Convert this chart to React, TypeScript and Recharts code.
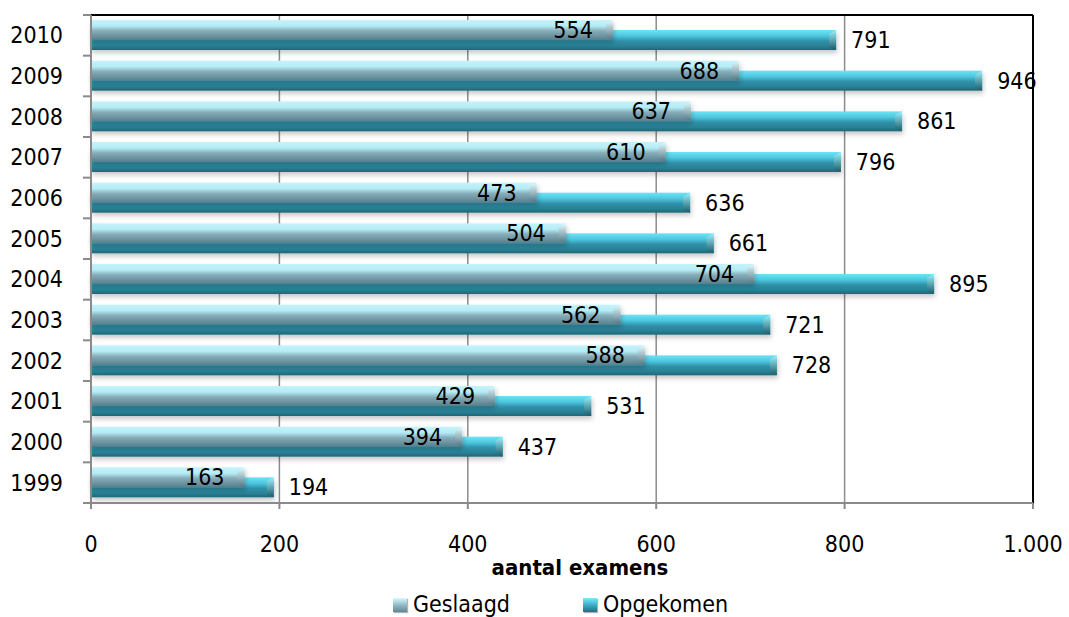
import React from 'react';
import { BarChart, Bar, XAxis, YAxis, CartesianGrid, LabelList, Legend, ReferenceLine } from 'recharts';

const years = ['2010', '2009', '2008', '2007', '2006', '2005', '2004', '2003', '2002', '2001', '2000', '1999'];
const geslaagd = [554, 688, 637, 610, 473, 504, 704, 562, 588, 429, 394, 163];
const opgekomen = [791, 946, 861, 796, 636, 661, 895, 721, 728, 531, 437, 194];
const xTicks = [0, 200, 400, 600, 800, 1000];
const seriesNames = ['Geslaagd', 'Opgekomen'];

const data = years.map((year, i) => ({ year, geslaagd: geslaagd[i], opgekomen: opgekomen[i] }));

const W = 1069;
const H = 617;
const TOP = 14;
const PLOT_TOP = 15;
const PLOT_BOTTOM = 503;
const BAND = (PLOT_BOTTOM - PLOT_TOP) / years.length;
const FONT = '"DejaVu Sans Condensed", "DejaVu Sans", sans-serif';

// number format like the Dutch source: 1.000
const fmt = (v: number) => String(v).replace(/\B(?=(\d{3})+(?!\d))/g, '.');

// bar with a little bevel at its right end
const makeShape = (grad: string, cap: string) => (props: any) => {
  const { x, y, width, height } = props;
  if (!width || width <= 0) return null;
  const b = Math.min(7, width);
  return (
    <g filter="url(#barShadow)">
      <rect x={x} y={y} width={width} height={height} fill={`url(#${grad})`} />
      <polygon
        points={`${x + width - b},${y + 4} ${x + width},${y} ${x + width},${y + height} ${x + width - b},${y + height - 3}`}
        fill={`url(#${cap})`}
      />
    </g>
  );
};

const YTick = (props: any) => {
  const { x, y, payload, index } = props;
  const axisX = x + 28;
  return (
    <g>
      <text x={x} y={y} textAnchor="end" dominantBaseline="central" fontSize={23} fill="#000" fontFamily={FONT}>
        {payload.value}
      </text>
      <line x1={axisX - 8} x2={axisX} y1={y - BAND / 2} y2={y - BAND / 2} stroke="#8a8a8a" strokeWidth={2} />
      {index === years.length - 1 && (
        <line x1={axisX - 8} x2={axisX} y1={y + BAND / 2} y2={y + BAND / 2} stroke="#8a8a8a" strokeWidth={2} />
      )}
    </g>
  );
};

const legendSwatch = [
  'linear-gradient(#d4fbff, #8fb5c0 55%, #5d8795)',
  'linear-gradient(#7beafc, #37a8c2 55%, #1f6f80)',
];

const renderLegend = () => (
  <div
    style={{
      display: 'flex',
      paddingLeft: 393,
      paddingTop: 8,
      fontFamily: FONT,
      fontSize: 23,
      lineHeight: '23px',
      color: '#000',
    }}
  >
    {seriesNames.map((name, i) => (
      <div key={name} style={{ display: 'flex', alignItems: 'center', width: 190 }}>
        <span
          style={{
            display: 'inline-block',
            width: 14,
            height: 14,
            marginRight: 6,
            background: legendSwatch[i],
            boxShadow: '1px 1px 1px rgba(0,0,0,0.3)',
          }}
        />
        <span>{name}</span>
      </div>
    ))}
  </div>
);

export default function App() {
  return (
    <div style={{ position: 'absolute', left: 0, top: 0, width: W, height: H, background: '#fff', overflow: 'hidden' }}>
      <BarChart
        width={W}
        height={H}
        data={data}
        layout="vertical"
        margin={{ top: TOP, right: 36, left: 0, bottom: 0 }}
        barSize={20}
        barGap={-30}
        style={{ fontFamily: FONT }}
      >
        <defs>
          <linearGradient id="gradGes" x1="0" y1="0" x2="0" y2="1">
            <stop offset="0%" stopColor="#c6f3fb" />
            <stop offset="30%" stopColor="#b4ecf6" />
            <stop offset="55%" stopColor="#86acb8" />
            <stop offset="80%" stopColor="#6c93a0" />
            <stop offset="100%" stopColor="#557f8d" />
          </linearGradient>
          <linearGradient id="capGes" x1="0" y1="0" x2="0" y2="1">
            <stop offset="0%" stopColor="#e8fdff" />
            <stop offset="100%" stopColor="#4d7482" />
          </linearGradient>
          <linearGradient id="gradOpg" x1="0" y1="0" x2="0" y2="1">
            <stop offset="0%" stopColor="#6fe3f7" />
            <stop offset="30%" stopColor="#4cc6de" />
            <stop offset="55%" stopColor="#2f90a8" />
            <stop offset="80%" stopColor="#2a8296" />
            <stop offset="100%" stopColor="#1f6676" />
          </linearGradient>
          <linearGradient id="capOpg" x1="0" y1="0" x2="0" y2="1">
            <stop offset="0%" stopColor="#9ff2ff" />
            <stop offset="100%" stopColor="#1a5968" />
          </linearGradient>
          <filter id="barShadow" x="-5%" y="-40%" width="110%" height="200%">
            <feDropShadow dx="1" dy="3" stdDeviation="2.5" floodColor="#000" floodOpacity="0.22" />
          </filter>
        </defs>
        <CartesianGrid horizontal={false} stroke="#8c8c8c" strokeWidth={1.5} />
        <XAxis
          type="number"
          domain={[0, 1000]}
          ticks={xTicks}
          tickFormatter={fmt}
          height={82}
          tickSize={6}
          tickMargin={27}
          stroke="#8a8a8a"
          strokeWidth={2}
          tick={{ fill: '#000', fontSize: 23 }}
          label={{
            value: 'aantal examens',
            position: 'insideBottom',
            offset: 10,
            dx: 18,
            fill: '#000',
            fontSize: 22,
            fontWeight: 'bold',
            fontFamily: FONT,
          }}
        />
        <XAxis
          xAxisId="top"
          orientation="top"
          type="number"
          domain={[0, 1000]}
          height={1}
          tick={false}
          tickLine={false}
          axisLine={{ stroke: '#000', strokeWidth: 2 }}
        />
        <YAxis
          type="category"
          dataKey="year"
          width={91}
          tickLine={false}
          tickMargin={22}
          axisLine={{ stroke: '#8a8a8a', strokeWidth: 2 }}
          tick={<YTick />}
          interval={0}
        />
        <ReferenceLine x={1000} stroke="#000" strokeWidth={2} />
        <Legend verticalAlign="bottom" height={32} content={renderLegend} />
        {/* declared first so Geslaagd is painted over it; the negative gap lifts Geslaagd above */}
        <Bar dataKey="opgekomen" name="Opgekomen" isAnimationActive={false} shape={makeShape('gradOpg', 'capOpg')}>
          <LabelList dataKey="opgekomen" position="right" offset={15} fill="#000" fontSize={23} />
        </Bar>
        <Bar dataKey="geslaagd" name="Geslaagd" isAnimationActive={false} shape={makeShape('gradGes', 'capGes')}>
          <LabelList dataKey="geslaagd" position="insideRight" offset={20} fill="#000" fontSize={23} />
        </Bar>
      </BarChart>
    </div>
  );
}
